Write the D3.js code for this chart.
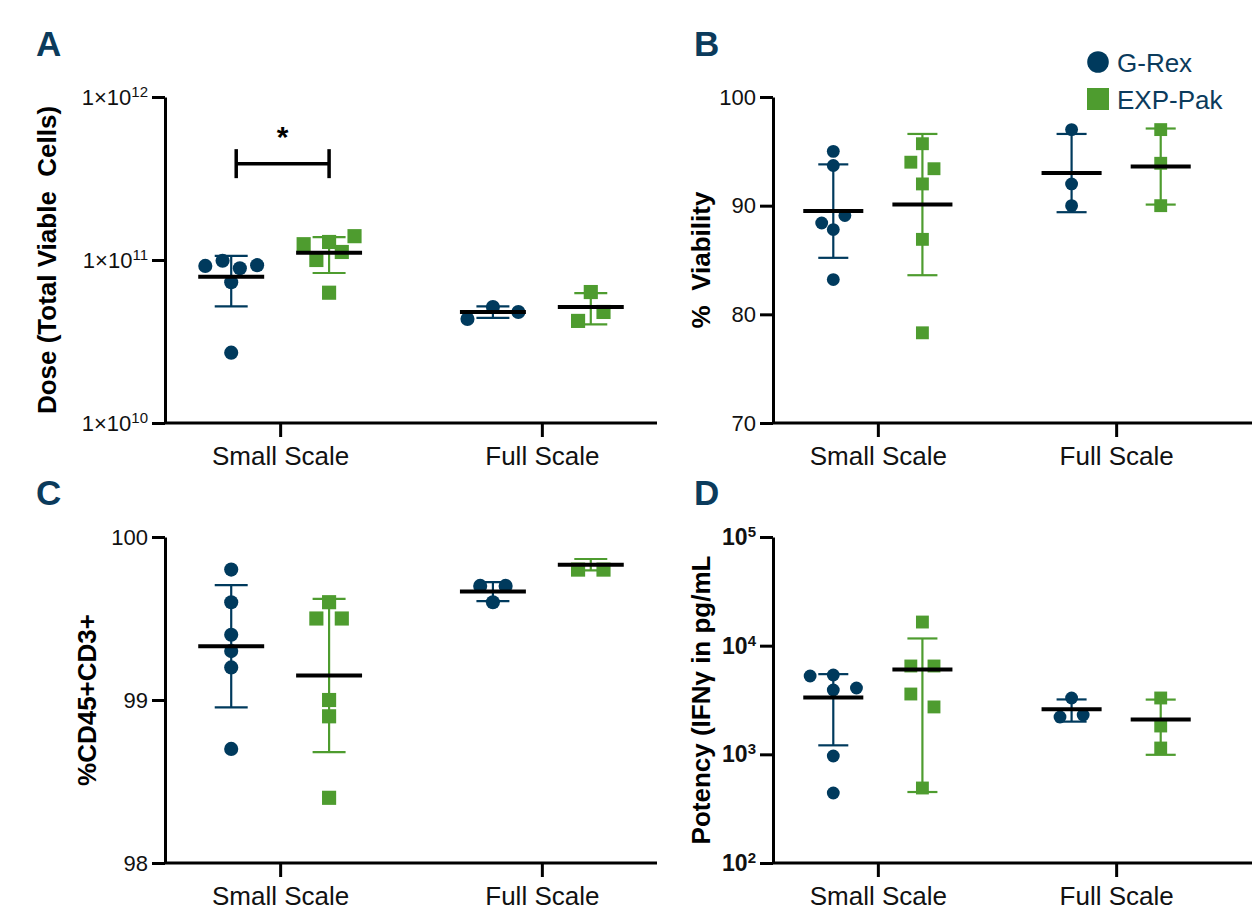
<!DOCTYPE html>
<html lang="en">
<head>
<meta charset="UTF-8">
<title>G-Rex vs EXP-Pak</title>
<script src="https://cdn.jsdelivr.net/npm/d3@7"></script>
<style>
    body { margin: 0; background: #fff; }
    svg { font-family: "Liberation Sans", Arial, sans-serif; display: block; }
</style>
</head>
<body>
<svg id="chart"></svg>
<script>
    var width = 1252, height = 920;

    // categories and series
    var categories = ["Small Scale", "Full Scale"];
    var groups = ["G-Rex", "EXP-Pak"];

    // A: dose (total viable cells), [small, full]
    var doseGRex = [[9.2e10, 9.9e10, 8.9e10, 9.3e10, 7.3e10, 2.7e10], [4.35e10, 5.15e10, 4.8e10]];
    var doseExpPak = [[1.25e11, 1.29e11, 1.40e11, 1.0e11, 1.12e11, 6.3e10], [6.36e10, 4.23e10, 4.8e10]];
    var doseMeanGRex = [7.9e10, 4.8e10], doseSdGRex = [2.7e10, 0.39e10];
    var doseMeanExpPak = [1.107e11, 5.15e10], doseSdExpPak = [2.75e10, 1.12e10];

    // B: % viability
    var viabGRex = [[95.0, 93.7, 88.4, 89.1, 87.8, 83.2], [97.0, 92.0, 90.0]];
    var viabExpPak = [[95.7, 94.0, 93.4, 92.0, 86.9, 78.3], [97.0, 93.9, 90.0]];
    var viabMeanGRex = [89.5, 93.0], viabSdGRex = [4.3, 3.6];
    var viabMeanExpPak = [90.1, 93.6], viabSdExpPak = [6.5, 3.5];

    // C: %CD45+CD3+
    var cdGRex = [[99.8, 99.6, 99.4, 99.3, 99.2, 98.7], [99.7, 99.7, 99.6]];
    var cdExpPak = [[99.6, 99.5, 99.5, 99.0, 98.9, 98.4], [99.8, 99.8]];
    var cdMeanGRex = [99.33, 99.665], cdSdGRex = [0.375, 0.058];
    var cdMeanExpPak = [99.15, 99.83], cdSdExpPak = [0.47, 0.035];

    // D: potency (IFNy pg/mL)
    var potGRex = [[5260, 5370, 3910, 4080, 966, 441], [3300, 2206, 2301]];
    var potExpPak = [[16500, 6500, 6500, 3590, 2730, 490], [3300, 1823, 1143]];
    var potMeanGRex = [3340, 2600], potSdGRex = [2130, 600];
    var potMeanExpPak = [6050, 2090], potSdExpPak = [5600, 1100];

    // tick values
    var doseTicks = [1e10, 1e11, 1e12];
    var viabTicks = [70, 80, 90, 100];
    var cdTicks = [98, 99, 100];
    var potTicks = [1e2, 1e3, 1e4, 1e5];

    var colors = { "G-Rex": "#003a5d", "EXP-Pak": "#4e9c2f" };
    var navy = "#0b3b5c";

    var svg = d3.select('#chart')
        .attr('width', width)
        .attr('height', height);

    svg.append('rect').attr('width', width).attr('height', height).attr('fill', '#fff');

    function expLabel(base, bold) {
        return function (d) {
            var e = Math.round(Math.log10(d));
            var t = d3.select(this).text(null);
            if (bold) t.style('font-weight', 'bold').style('font-size', '23px');
            t.append('tspan').text(base);
            t.append('tspan').attr('dy', '-8').style('font-size', '15px').text(e);
        };
    }

    var panels = [
        {
            letter: 'A', left: 165, right: 657, lineEnd: 657, top: 97, bottom: 423,
            scale: d3.scaleLog().domain([1e10, 1e12]),
            ticks: doseTicks, tickLabel: expLabel('1×10', false),
            title: 'Dose (Total Viable  Cells)', titleX: 56,
            points: [doseGRex, doseExpPak],
            means: [doseMeanGRex, doseMeanExpPak], sds: [doseSdGRex, doseSdExpPak]
        },
        {
            letter: 'B', left: 773, right: 1221, lineEnd: 1252, top: 97, bottom: 423,
            scale: d3.scaleLinear().domain([70, 100]),
            ticks: viabTicks, tickLabel: null,
            title: '%  Viability', titleX: 710,
            points: [viabGRex, viabExpPak],
            means: [viabMeanGRex, viabMeanExpPak], sds: [viabSdGRex, viabSdExpPak]
        },
        {
            letter: 'C', left: 165, right: 657, lineEnd: 657, top: 537, bottom: 863,
            scale: d3.scaleLinear().domain([98, 100]),
            ticks: cdTicks, tickLabel: null,
            title: '%CD45+CD3+', titleX: 96,
            points: [cdGRex, cdExpPak],
            means: [cdMeanGRex, cdMeanExpPak], sds: [cdSdGRex, cdSdExpPak]
        },
        {
            letter: 'D', left: 773, right: 1221, lineEnd: 1252, top: 537, bottom: 863,
            scale: d3.scaleLog().domain([1e2, 1e5]),
            ticks: potTicks, tickLabel: expLabel('10', true),
            title: 'Potency (IFNγ in pg/mL', titleX: 710,
            points: [potGRex, potExpPak],
            means: [potMeanGRex, potMeanExpPak], sds: [potSdGRex, potSdExpPak]
        }
    ];

    // prism-like scatter: points closer than a marker go into one centred row
    function spread(vals, y, cx, d, maxSpan) {
        var pts = vals.map(function (v, i) { return { v: v, i: i, y: y(v) }; });
        var rows = [];
        pts.slice().sort(function (a, b) { return a.y - b.y; }).forEach(function (p) {
            var row = rows[rows.length - 1];
            if (row && p.y - row[0].y < d * 1.05) row.push(p);
            else rows.push([p]);
        });
        rows.forEach(function (row) {
            row.sort(function (a, b) { return a.i - b.i; });
            var n = row.length;
            var s = n > 1 ? Math.min(1.8 * d, maxSpan / (n - 1)) : 0;
            row.forEach(function (p, k) { p.x = cx + (k - (n - 1) / 2) * s; });
        });
        return pts;
    }

    panels.forEach(function (p) {
        var g = svg.append('g');
        var y = p.scale.range([p.bottom, p.top]);
        var x = d3.scalePoint().domain(categories).range([p.left, p.right]).padding(0.44);
        var step = x.step();
        var sub = d3.scalePoint().domain(groups).range([-0.187 * step, 0.187 * step]);
        var d = 0.054 * step;
        var halfMean = 0.126 * step;
        var halfCap = 0.063 * step;

        // x axis
        var xa = g.append('g')
            .attr('transform', 'translate(0,' + p.bottom + ')')
            .call(d3.axisBottom(x).tickSize(14).tickSizeOuter(0));
        xa.select('.domain').remove();
        xa.selectAll('.tick line').attr('stroke', '#000').attr('stroke-width', 3);
        xa.selectAll('.tick text')
            .attr('y', 42).attr('dy', 0)
            .style('font-size', '26px').attr('fill', '#111');
        g.append('line')
            .attr('x1', p.left).attr('x2', p.lineEnd)
            .attr('y1', p.bottom).attr('y2', p.bottom)
            .attr('stroke', '#000').attr('stroke-width', 3);

        // y axis
        var ya = g.append('g')
            .attr('transform', 'translate(' + p.left + ',0)')
            .call(d3.axisLeft(y).tickValues(p.ticks).tickFormat(d3.format('d'))
                .tickSize(13).tickSizeOuter(0).tickPadding(4));
        ya.select('.domain').attr('stroke', '#000').attr('stroke-width', 3);
        ya.selectAll('.tick line').attr('stroke', '#000').attr('stroke-width', 3);
        ya.selectAll('.tick text').style('font-size', '22px').attr('fill', '#111');
        if (p.tickLabel) ya.selectAll('.tick text').each(p.tickLabel);

        // y title
        g.append('text')
            .attr('transform', 'translate(' + p.titleX + ',' + ((p.top + p.bottom) / 2) + ') rotate(-90)')
            .attr('text-anchor', 'middle')
            .style('font-size', '26px').style('font-weight', 'bold')
            .style('white-space', 'pre')
            .attr('fill', '#000')
            .text(p.title);

        // panel letter
        g.append('text')
            .attr('x', p.left < 400 ? 36 : 694)
            .attr('y', p.top < 400 ? 56 : 505)
            .style('font-size', '35px').style('font-weight', 'bold')
            .attr('fill', navy)
            .text(p.letter);

        groups.forEach(function (grp, gi) {
            categories.forEach(function (cat, ci) {
                var cx = x(cat) + sub(grp);
                var mean = p.means[gi][ci], sd = p.sds[gi][ci];
                var col = colors[grp];
                var bars = g.append('g').attr('stroke', col).attr('stroke-width', 2.2);
                bars.append('line')
                    .attr('x1', cx).attr('x2', cx)
                    .attr('y1', y(mean + sd)).attr('y2', y(mean - sd));
                [mean + sd, mean - sd].forEach(function (v) {
                    bars.append('line')
                        .attr('x1', cx - halfCap).attr('x2', cx + halfCap)
                        .attr('y1', y(v)).attr('y2', y(v));
                });

                var pts = spread(p.points[gi][ci], y, cx, d, 2 * halfMean - d);
                if (gi === 0) {
                    g.selectAll(null).data(pts).enter().append('circle')
                        .attr('cx', function (q) { return q.x; })
                        .attr('cy', function (q) { return q.y; })
                        .attr('r', d / 2)
                        .attr('fill', col);
                } else {
                    g.selectAll(null).data(pts).enter().append('rect')
                        .attr('x', function (q) { return q.x - d / 2; })
                        .attr('y', function (q) { return q.y - d / 2; })
                        .attr('width', d).attr('height', d)
                        .attr('fill', col);
                }

                g.append('line')
                    .attr('x1', cx - halfMean).attr('x2', cx + halfMean)
                    .attr('y1', y(mean)).attr('y2', y(mean))
                    .attr('stroke', '#000').attr('stroke-width', 4);
            });
        });

        // significance bracket on panel A
        if (p.letter === 'A') {
            var bx1 = x(categories[0]) + sub(groups[0]) + 5;
            var bx2 = x(categories[0]) + sub(groups[1]);
            var by = y(3.9e11);
            var br = g.append('g').attr('stroke', '#000').attr('stroke-width', 3.5);
            br.append('line').attr('x1', bx1).attr('x2', bx2).attr('y1', by).attr('y2', by);
            [bx1, bx2].forEach(function (bx) {
                br.append('line').attr('x1', bx).attr('x2', bx).attr('y1', by - 14.5).attr('y2', by + 14.5);
            });
            g.append('text')
                .attr('x', (bx1 + bx2) / 2).attr('y', by - 17)
                .attr('text-anchor', 'middle')
                .style('font-size', '30px').style('font-weight', 'bold')
                .text('*');
        }
    });

    // legend
    var legend = svg.append('g');
    legend.append('circle').attr('cx', 1098).attr('cy', 62).attr('r', 10.8).attr('fill', colors['G-Rex']);
    legend.append('rect').attr('x', 1087).attr('y', 88).attr('width', 22).attr('height', 22).attr('fill', colors['EXP-Pak']);
    legend.selectAll('text').data(groups).enter().append('text')
        .attr('x', 1117)
        .attr('y', function (d, i) { return i === 0 ? 72 : 109; })
        .style('font-size', '26px')
        .attr('fill', navy)
        .text(function (d) { return d; });
</script>
</body>
</html>
